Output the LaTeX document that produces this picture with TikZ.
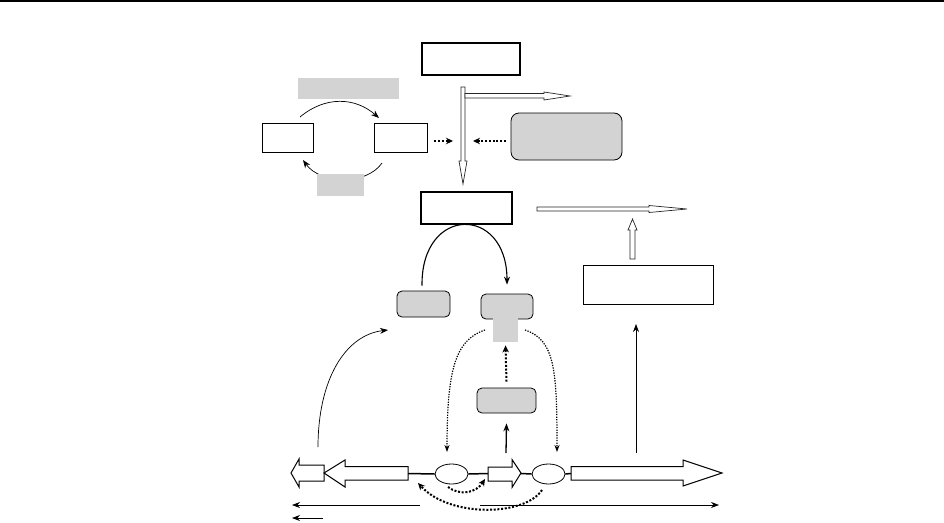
\documentclass[tikz,border=0pt]{standalone}
\usetikzlibrary{arrows.meta,shapes.geometric}
\definecolor{lgray}{RGB}{211,211,211}
\tikzset{
  thickbox/.style={draw, line width=1.4pt, inner sep=0pt},
  thinbox/.style={draw, line width=0.8pt, inner sep=0pt},
  grayround/.style={draw, fill=lgray, rounded corners=5pt, line width=0.8pt, inner sep=0pt},
  graylabel/.style={fill=lgray, inner sep=0pt},
  oval/.style={draw, ellipse, line width=0.8pt, inner sep=0pt, minimum width=33pt, minimum height=20pt},
  tip/.style={-{Stealth[length=8pt,width=6pt]}},
  thinarrow/.style={tip, line width=0.7pt},
  bigdots/.style={-{Stealth[length=7pt,width=6.5pt]}, line width=2pt, dash pattern=on 2pt off 1.7pt},
  smalldots/.style={-{Stealth[length=7pt,width=5pt]}, line width=1.2pt, dash pattern=on 1.3pt off 1.3pt},
  hollow/.style={draw=black!85, fill=white, line width=0.7pt, line join=miter},
  hollowbig/.style={draw=black, fill=white, line width=1pt, line join=miter},
}
\begin{document}
\begin{tikzpicture}[x=1pt,y=-1pt]
\useasboundingbox (0,0) rectangle (944,522);
\draw[line width=1.5pt] (0,1) -- (944,1);

% boxes
\node[thickbox, minimum width=98pt, minimum height=32pt] (top) at (471,59) {};
\node[thinbox, minimum width=51pt, minimum height=29pt] (L) at (287.5,137.5) {};
\node[thinbox, minimum width=53pt, minimum height=29pt] (R) at (400.5,137.5) {};
\node[grayround, rounded corners=8pt, minimum width=111pt, minimum height=47pt] (gr1) at (566.5,136.5) {};
\node[thickbox, minimum width=91pt, minimum height=32pt] (mid) at (466.5,208) {};
\node[thinbox, minimum width=130pt, minimum height=39pt] (rbox) at (648,284.5) {};
\node[grayround, minimum width=53pt, minimum height=26pt] (gl) at (423.5,304) {};
\node[grayround, minimum width=52pt, minimum height=25pt] (grt) at (507,306.5) {};
\node[graylabel, minimum width=25pt, minimum height=24.5pt] (stem) at (505.5,330) {};
\node[grayround, minimum width=59pt, minimum height=25pt] (gs) at (506.5,400.5) {};

% cycle on the left
\coordinate (c1) at (300,117);
\coordinate (c2) at (379,118);
\draw[thinarrow] (c1) .. controls (325,96) and (355,97) .. (c2);
\coordinate (c3) at (382,163);
\coordinate (c4) at (303,160);
\draw[thinarrow] (c3) .. controls (366,186) and (320,184) .. (c4);
\node[graylabel, minimum width=101pt, minimum height=21pt] (la) at (348.5,88.5) {};
\node[graylabel, minimum width=47pt, minimum height=22pt] (lb) at (340.5,185) {};

% dotted arrows into the hollow arrow
\coordinate (d1) at (453,141);
\coordinate (d2) at (473,141);
\draw[bigdots] (R.east) ++(7,3.5) -- (d1);
\draw[bigdots] (gr1.west) ++(-5,4.5) -- (d2);

% hollow arrows top
\draw[hollow] (461,87) -- (465,87) -- (465,161) -- (467,161) -- (463,184) -- (459,161) -- (461,161) -- cycle;
\draw[hollow] (465,93.5) -- (544,93.5) -- (544,92) -- (570,96) -- (544,100) -- (544,98) -- (465,98) -- cycle;

% hollow arrows middle
\draw[hollow] (537,207) -- (649,207) -- (649,205.5) -- (687,209) -- (649,212.5) -- (649,211) -- (537,211) -- cycle;
\draw[hollow] (630,259) -- (630,230) -- (628,230) -- (632.5,219) -- (637,230) -- (635,230) -- (635,259) -- cycle;

% arc from gl to grt
\draw[tip, line width=1.1pt] ([yshift=5pt]gl.north -| 422,0) .. controls (421,205) and (507,205) .. ([yshift=9pt]grt.north);

% left curve
\coordinate (e1) at (318,447);
\coordinate (e2) at (388,330);
\draw[thinarrow] (e1) .. controls (318,380) and (345,335) .. (e2);

% dotted curves from stem
\coordinate (f1) at (485,330);
\coordinate (f2) at (447,452);
\coordinate (f3) at (525,330);
\coordinate (f4) at (557,452);
\draw[smalldots] (f1) .. controls (455,340) and (447,370) .. (f2);
\draw[smalldots] (f3) .. controls (555,340) and (557,370) .. (f4);
\draw[bigdots] (gs.north) ++(0,-6) -- ([yshift=-3pt]stem.south);
\coordinate (g1) at (506,453);
\draw[tip, line width=1.3pt] (g1) -- ([yshift=-10pt]gs.south);
\coordinate (h1) at (636,453);
\coordinate (h2) at (636,324);
\draw[thinarrow] (h1) -- (h2);

% bottom row
\draw[hollowbig] (291,473) -- (299,459) -- (299,465) -- (324,465) -- (324,481) -- (299,481) -- (299,487) -- cycle;
\draw[hollowbig] (324,473) -- (345,460) -- (345,466.5) -- (408,466.5) -- (408,480) -- (345,480) -- (345,487) -- cycle;
\node[oval] (o1) at (451.5,474) {};
\node[oval] (o2) at (548.5,474) {};
\draw[hollowbig] (488,467) -- (512,467) -- (512,459.5) -- (521,473) -- (512,487.5) -- (512,481) -- (488,481) -- cycle;
\draw[hollowbig] (571,466.5) -- (683,466.5) -- (683,460) -- (722,473) -- (683,486) -- (683,480) -- (571,480) -- cycle;
\draw[line width=1.5pt] (408,473.5) -- (o1.west);
\draw[line width=1.5pt] (o1.east) -- (488,473.5);
\draw[line width=1.5pt] (521,473.5) -- (o2.west);
\draw[line width=1.5pt] (o2.east) -- (571,473.5);

% dotted under
\draw[bigdots] (448,487) .. controls (460,496) and (476,493) .. (485,479);
\draw[bigdots] (542,490) .. controls (525,516) and (450,518) .. (418,483);

% bottom lines
\coordinate (b1) at (420,505);
\coordinate (b2) at (292,505);
\coordinate (b3) at (480,505);
\coordinate (b4) at (719,505);
\coordinate (b5) at (323,518);
\coordinate (b6) at (292,518);
\draw[thinarrow] (b1) -- (b2);
\draw[thinarrow] (b3) -- (b4);
\draw[thinarrow] (b5) -- (b6);
\end{tikzpicture}
\end{document}
